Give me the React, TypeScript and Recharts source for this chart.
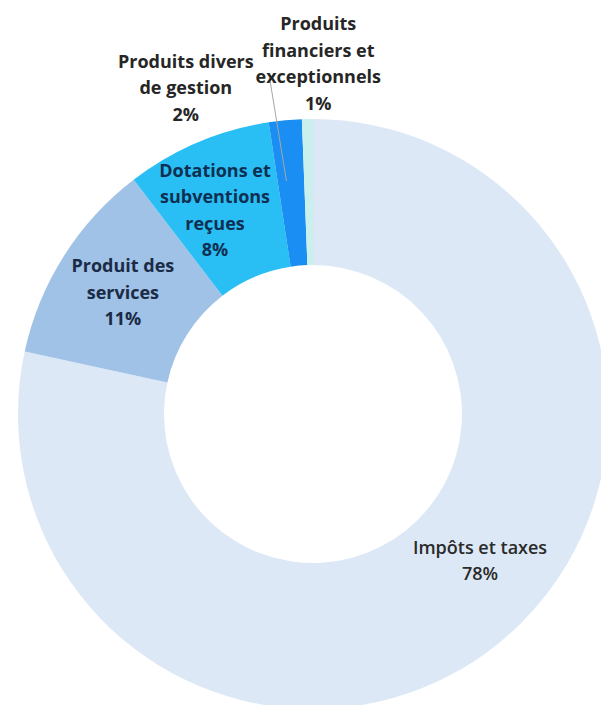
import React from 'react';
import { PieChart, Pie, Cell } from 'recharts';

const categories = [
  'Impôts et taxes',
  'Produit des services',
  'Dotations et subventions reçues',
  'Produits divers de gestion',
  'Produits financiers et exceptionnels',
];
const shares = [78.4, 11.2, 8.0, 1.8, 0.6];
const labelLines = [
  ['Impôts et taxes'],
  ['Produit des', 'services'],
  ['Dotations et', 'subventions', 'reçues'],
  ['Produits divers', 'de gestion'],
  ['Produits', 'financiers et', 'exceptionnels'],
];
const colors = ['#dce8f5', '#9fc2e6', '#29bff4', '#1a8ef2', '#c9f0ec'];
const textColors = ['#2a2a2a', '#1b2b45', '#0f2f52', '#262626', '#262626'];
const textWeights = [600, 700, 700, 700, 700];

const CX = 308;
const CY = 409;
const RAD = Math.PI / 180;

// where each label block sits, polar around the centre (radius px, angle deg)
const labelPlace = [
  { r: 229, a: -41.3 },
  { r: 219, a: 147.7 },
  { r: 220, a: 115 },
  { r: 344, a: 110.8 },
  { r: 346, a: 88.3 },
];

const LINE_H = 26.5;

const data = categories.map((name, i) => ({ name, value: shares[i] }));

const renderLabel = (props: any) => {
  const { index, midAngle } = props;
  const place = labelPlace[index];
  const x = CX + place.r * Math.cos(place.a * RAD);
  const y = CY - place.r * Math.sin(place.a * RAD);
  const lines = [...labelLines[index], `${Math.round(shares[index])}%`];
  const top = y - ((lines.length - 1) * LINE_H) / 2;
  let leader = null;
  if (index === 3) {
    const ex = CX + 229 * Math.cos(midAngle * RAD);
    const ey = CY - 229 * Math.sin(midAngle * RAD);
    leader = <line x1={x + 84} y1={y - 8} x2={ex} y2={ey} stroke="#a6a6a6" strokeWidth={1} />;
  }
  return (
    <g key={`lbl-${index}`}>
      {leader}
      <text
        x={x}
        y={top}
        textAnchor="middle"
        dominantBaseline="central"
        fill={textColors[index]}
        fontFamily="'Open Sans', sans-serif"
        fontWeight={textWeights[index]}
        fontSize={18}
      >
        {lines.map((l, k) => (
          <tspan key={k} x={x} y={top + k * LINE_H}>
            {l}
          </tspan>
        ))}
      </text>
    </g>
  );
};

export default function App() {
  return (
    <div style={{ position: 'absolute', left: 0, top: 0, width: 601, height: 705, background: '#fff' }}>
      <PieChart width={601} height={705}>
        <Pie
          data={data}
          dataKey="value"
          nameKey="name"
          cx={CX}
          cy={CY}
          innerRadius={149}
          outerRadius={295}
          startAngle={90}
          endAngle={-270}
          stroke="none"
          label={renderLabel}
          labelLine={false}
          isAnimationActive={false}
        >
          {data.map((d, i) => (
            <Cell key={d.name} fill={colors[i]} />
          ))}
        </Pie>
      </PieChart>
    </div>
  );
}
